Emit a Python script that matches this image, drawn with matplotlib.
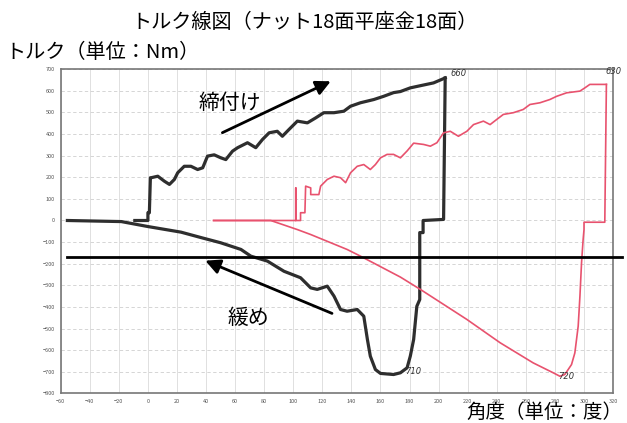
import numpy as np
import matplotlib
matplotlib.use('Agg')
import matplotlib.pyplot as plt

plt.rcParams['font.family'] = ['Noto Sans CJK JP', 'DejaVu Sans']

# 1回目 締付け (黒)
t1_x = [-9, 0, 0, 1, 1.7, 2.2, 6.8, 11.3, 14.8, 18.2, 20.5, 25, 29.6, 34.2, 37.7, 41, 45.6, 50.2,
        53.6, 58.2, 61.7, 68.5, 74.2, 78.8, 83.4, 89, 92.5, 97, 102.8, 109.7, 115.4, 121, 128,
        134.8, 139.4, 146.2, 155.4, 162.2, 169, 173.7, 180.5, 187.4, 196.5, 204.5]
t1_y = [0, 0, 36, 36, 198, 198, 205, 182, 167, 190, 221, 251, 251, 236, 244, 298, 304, 290,
        282, 321, 337, 360, 337, 375, 406, 413, 390, 421, 460, 452, 475, 499, 499,
        506, 529, 545, 560, 575, 592, 597, 614, 624, 637, 660]

# 1回目 緩め (黒)
l1_x = [-55.4, -18.3, 0, 22.8, 36.5, 50, 64, 70.8, 82.2, 93.6, 105, 112, 116.5, 123.4, 128,
        132.5, 137, 144, 148.5, 151, 153, 156.5, 160, 169, 173.7, 178.3, 180.5, 182.8, 185,
        187, 187, 189.3, 189.3, 203.4, 204.5]
l1_y = [0, -5, -28, -54, -79, -103, -134, -165, -188, -235, -265, -312, -319, -304, -350,
        -412, -420, -412, -443, -551, -628, -690, -708, -713, -705, -682, -628, -551, -397,
        -366, -56, -56, 0, 5, 660]

# 2回目 締付け (赤)
t2_x = [45.2, 101.7, 101.7, 101.7, 105, 105, 108, 108.5, 112, 112, 117.6, 118.8, 123.4, 128,
        132.5, 136, 139.4, 144, 148.5, 153, 156.5, 160, 164.5, 169, 173.7, 178.3, 182.8,
        189.7, 194.3, 198.8, 203.4, 208, 213.6, 219.4, 224, 230.8, 235.4, 240, 244.5, 251.4,
        258.2, 262.8, 269.7, 276.5, 281.2, 288, 297.2, 300.6, 304, 315.4]
t2_y = [0, 0, 151, 0, 0, 36, 36, 159, 151, 120, 120, 159, 190, 205,
        198, 175, 221, 251, 259, 236, 259, 290, 306, 306, 290, 322, 358,
        352, 344, 360, 406, 413, 390, 413, 444, 460, 444, 468, 491, 499,
        514, 537, 545, 560, 575, 591, 599, 614, 630, 630]

# 2回目 緩め (赤)
l2_x = [45.2, 84.5, 102.8, 112, 137, 146.2, 173.7, 187.4, 219.4, 242.3, 265, 278.8, 283.4,
        286.8, 289.1, 291.4, 293.7, 296, 297.2, 298.3, 299.4, 300, 300, 314.3, 315.4]
l2_y = [0, 0, -42, -65, -134, -165, -262, -319, -458, -566, -659, -705, -721,
        -713, -690, -667, -613, -489, -350, -196, -88, -42, -8, -8, 630]

# 最大値メモ (手書き)
memo_x = [208, 315, 177, 282]
memo_y = [680, 690, -700, -722]
memo_txt = ['660', '630', '710', '720']

x_ticks = np.arange(-60, 321, 20)
y_ticks = np.arange(-800, 701, 100)

fig = plt.figure(figsize=(6.27, 4.23), dpi=100)
ax = fig.add_axes([0.0968, 0.0702, 0.881, 0.766])

ax.plot(l1_x, l1_y, color='#2e2e2e', lw=2.3)
ax.plot(t1_x, t1_y, color='#2e2e2e', lw=2.3)
ax.plot(l2_x, l2_y, color='#e8526e', lw=1.2)
ax.plot(t2_x, t2_y, color='#e8526e', lw=1.2)

for mx, my, mt in zip(memo_x, memo_y, memo_txt):
    ax.text(mx, my, mt, fontsize=6, style='italic', color='#333333',
            family='DejaVu Sans', ha='left', va='center')

ax.set_xlim(-60, 320)
ax.set_ylim(-800, 700)
ax.set_xticks(x_ticks)
ax.set_yticks(y_ticks)
ax.tick_params(length=0, labelsize=4, colors='#555555', pad=4)
ax.grid(axis='x', color='#dadada', lw=0.6)
ax.grid(axis='y', color='#cfcfcf', lw=0.6, ls=(0, (4, 3)))
for s in ax.spines.values():
    s.set_color('#777777')
    s.set_linewidth(1.2)

# 基準線と矢印
ax.plot([-56, 326], [-167, -167], color='black', lw=2, clip_on=False, zorder=5)
ax.annotate('', xy=(127.5, 650), xytext=(49.5, 401),
            arrowprops=dict(arrowstyle='-|>', lw=2, color='black', mutation_scale=22))
ax.annotate('', xy=(37.7, -181), xytext=(128.4, -435),
            arrowprops=dict(arrowstyle='-|>', lw=2, color='black', mutation_scale=22))
ax.text(56.5, 546, '締付け', fontsize=15, ha='center', va='center')
ax.text(68.8, -449, '緩め', fontsize=15, ha='center', va='center')

fig.text(0.485, 0.948, 'トルク線図（ナット18面平座金18面）', fontsize=14.5,
         ha='center', va='center')
fig.text(0.008, 0.877, 'トルク（単位：Nm）', fontsize=14.5, ha='left', va='center')
fig.text(0.992, 0.0, '角度（単位：度）', fontsize=14, ha='right', va='bottom')

fig.savefig('out.png', dpi=100)
